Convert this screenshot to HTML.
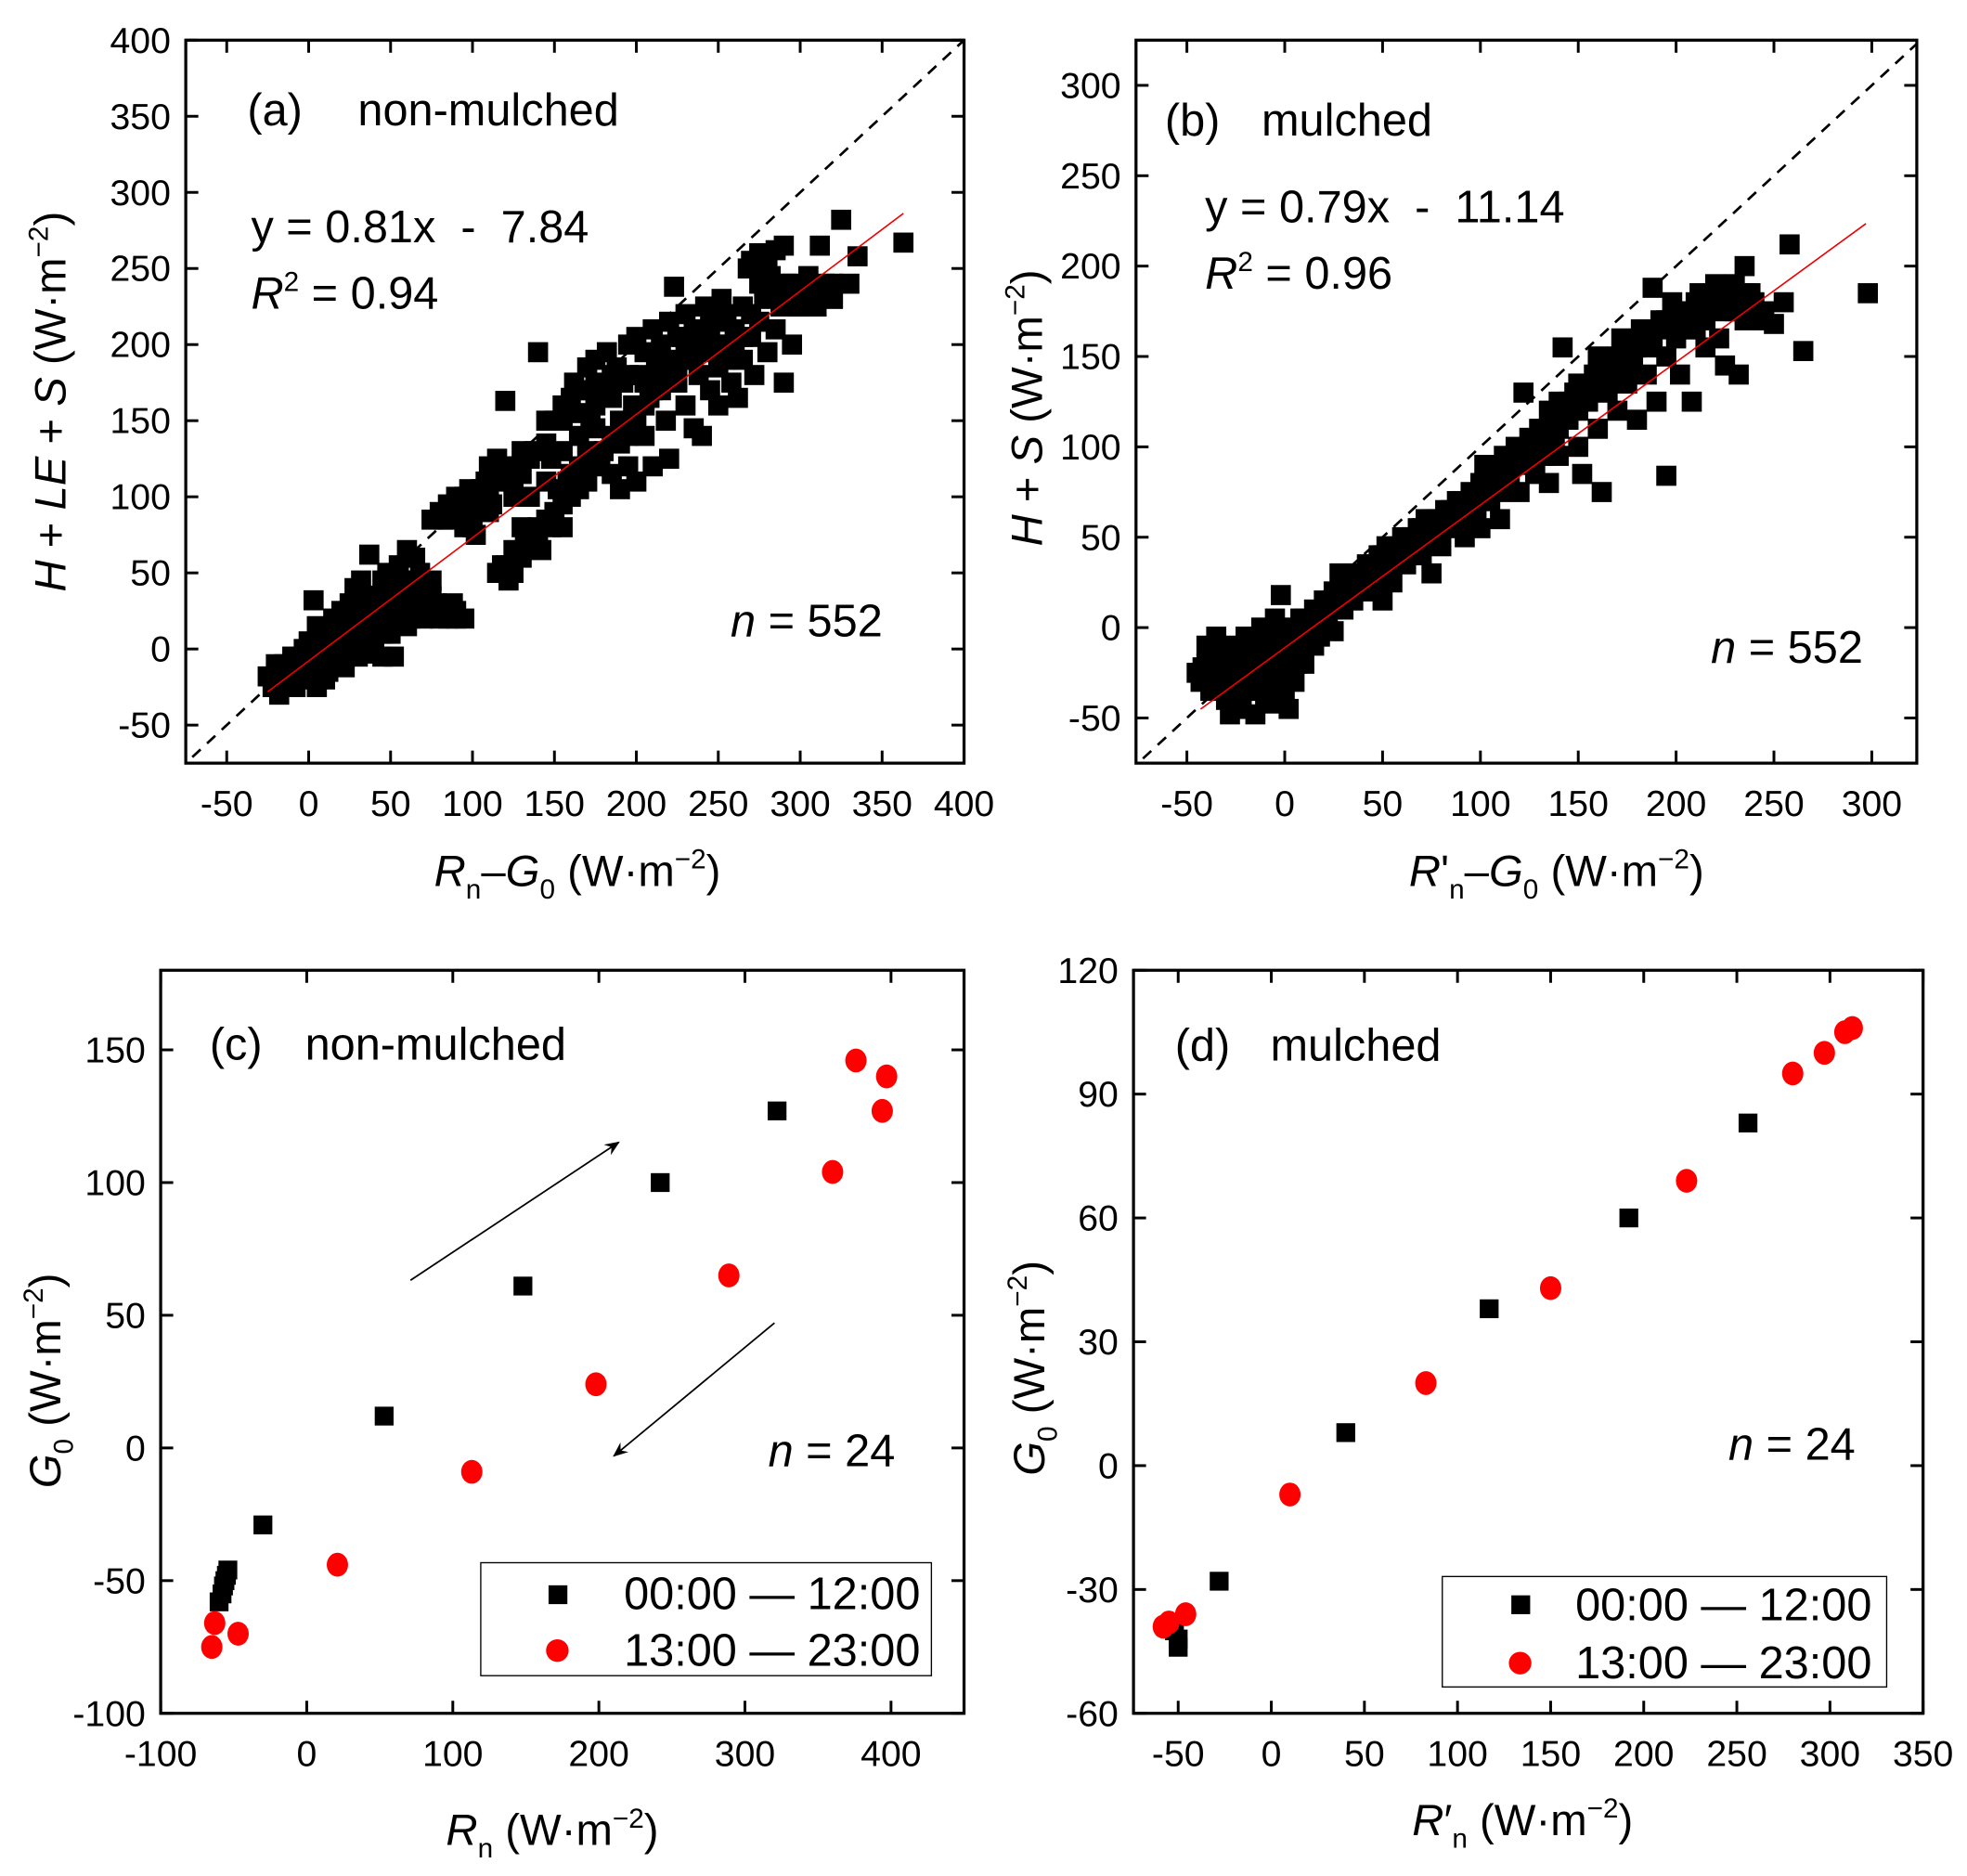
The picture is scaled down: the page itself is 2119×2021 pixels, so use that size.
<!DOCTYPE html>
<html><head><meta charset="utf-8"><style>
html,body{margin:0;padding:0;background:#fff;}
svg{display:block;}
text{font-family:"Liberation Sans",Arial,sans-serif;fill:#000;}
.tk{font-size:29px;}
.ann{font-size:36px;}
.ttl{font-size:35px;}
</style></head><body>
<svg id="fig" width="2119" height="2021" viewBox="0 0 1567 1494.6" preserveAspectRatio="none" xmlns="http://www.w3.org/2000/svg">
<defs>
<clipPath id="ca"><rect x="148" y="32" width="620" height="576"/></clipPath>
<clipPath id="cb"><rect x="905" y="32" width="622" height="576"/></clipPath>
<marker id="ah" markerWidth="12" markerHeight="10" refX="11" refY="5" orient="auto" markerUnits="userSpaceOnUse"><path d="M0,0 L12,5 L0,10 L4,5 Z" fill="#000"/></marker>
</defs>
<g id="root"></g>
<g>
<text class="ann" x="197" y="100">(a)</text><text class="ann" x="285" y="100">non-mulched</text>
<text class="ann" x="200" y="193">y = 0.81x &#160;- &#160;7.84</text>
<text class="ann" x="200" y="246"><tspan font-style="italic">R</tspan><tspan font-size="22" dy="-14">2</tspan><tspan dy="14"> = 0.94</tspan></text>
<text class="ann" x="582" y="507"><tspan font-style="italic">n</tspan> = 552</text>
</g>
<g>
<text class="ann" x="928" y="108">(b)</text><text class="ann" x="1005" y="108">mulched</text>
<text class="ann" x="960" y="177">y = 0.79x &#160;- &#160;11.14</text>
<text class="ann" x="960" y="230"><tspan font-style="italic">R</tspan><tspan font-size="22" dy="-14">2</tspan><tspan dy="14"> = 0.96</tspan></text>
<text class="ann" x="1363" y="528"><tspan font-style="italic">n</tspan> = 552</text>
</g>
<g>
<text class="ann" x="167" y="844">(c)</text><text class="ann" x="243" y="844">non-mulched</text>
<text class="ann" x="612" y="1168"><tspan font-style="italic">n</tspan> = 24</text>
<line x1="327" y1="1020" x2="493" y2="910" stroke="#000" stroke-width="1.3" marker-end="url(#ah)"/>
<line x1="617" y1="1054" x2="489" y2="1160" stroke="#000" stroke-width="1.3" marker-end="url(#ah)"/>
</g>
<g>
<text class="ann" x="936" y="845">(d)</text><text class="ann" x="1012" y="845">mulched</text>
<text class="ann" x="1377" y="1163"><tspan font-style="italic">n</tspan> = 24</text>
</g>
<text class="ttl" transform="translate(52,320) rotate(-90)" text-anchor="middle"><tspan font-style="italic">H</tspan> + <tspan font-style="italic">LE</tspan> + <tspan font-style="italic">S</tspan> (W·m<tspan font-size="22" dy="-14">−2</tspan><tspan dy="14">)</tspan></text>
<text class="ttl" x="460" y="706" text-anchor="middle"><tspan font-style="italic">R</tspan><tspan font-size="22" dy="10">n</tspan><tspan dy="-10">–</tspan><tspan font-style="italic">G</tspan><tspan font-size="22" dy="10">0</tspan><tspan dy="-10"> (W·m</tspan><tspan font-size="22" dy="-14">−2</tspan><tspan dy="14">)</tspan></text>
<text class="ttl" transform="translate(830,325) rotate(-90)" text-anchor="middle"><tspan font-style="italic">H</tspan> + <tspan font-style="italic">S</tspan> (W·m<tspan font-size="22" dy="-14">−2</tspan><tspan dy="14">)</tspan></text>
<text class="ttl" x="1240" y="706" text-anchor="middle"><tspan font-style="italic">R</tspan>'<tspan font-size="22" dy="10">n</tspan><tspan dy="-10">–</tspan><tspan font-style="italic">G</tspan><tspan font-size="22" dy="10">0</tspan><tspan dy="-10"> (W·m</tspan><tspan font-size="22" dy="-14">−2</tspan><tspan dy="14">)</tspan></text>
<text class="ttl" transform="translate(48,1100) rotate(-90)" text-anchor="middle"><tspan font-style="italic">G</tspan><tspan font-size="22" dy="10">0</tspan><tspan dy="-10"> (W·m</tspan><tspan font-size="22" dy="-14">−2</tspan><tspan dy="14">)</tspan></text>
<text class="ttl" x="440" y="1470" text-anchor="middle"><tspan font-style="italic">R</tspan><tspan font-size="22" dy="10">n</tspan><tspan dy="-10"> (W·m</tspan><tspan font-size="22" dy="-14">−2</tspan><tspan dy="14">)</tspan></text>
<text class="ttl" transform="translate(832,1090) rotate(-90)" text-anchor="middle"><tspan font-style="italic">G</tspan><tspan font-size="22" dy="10">0</tspan><tspan dy="-10"> (W·m</tspan><tspan font-size="22" dy="-14">−2</tspan><tspan dy="14">)</tspan></text>
<text class="ttl" x="1213" y="1462" text-anchor="middle"><tspan font-style="italic">R</tspan>′<tspan font-size="22" dy="10">n</tspan><tspan dy="-10"> (W·m</tspan><tspan font-size="22" dy="-14">−2</tspan><tspan dy="14">)</tspan></text>
<g>
<rect x="383" y="1245" width="359" height="90" fill="#fff" stroke="#000" stroke-width="1"/>
<rect x="437" y="1263" width="15" height="15" fill="#000"/>
<text class="ann" x="497" y="1282">00:00 — 12:00</text>
<circle cx="444" cy="1315" r="9" fill="#f00"/>
<text class="ann" x="497" y="1327">13:00 — 23:00</text>
</g>
<g>
<rect x="1149" y="1256" width="354" height="88" fill="#fff" stroke="#000" stroke-width="1"/>
<rect x="1204" y="1271" width="15" height="15" fill="#000"/>
<text class="ann" x="1255" y="1291">00:00 — 12:00</text>
<circle cx="1211" cy="1325" r="9" fill="#f00"/>
<text class="ann" x="1255" y="1337">13:00 — 23:00</text>
</g>
</svg>
<script>
const aPts=[[-25,-18],[-22,-25],[-20,-10],[-18,-30],[-15,-20],[-12,-15],[-10,-5],[-8,-25],[-5,-12],[-3,0],[0,-20],[0,5],[2,-8],[3,32],[5,-25],[5,15],[8,-2],[10,10],[12,-15],[15,20],[15,0],[18,-5],[20,25],[20,5],[22,-12],[25,30],[25,12],[28,40],[30,-5],[30,20],[32,45],[35,25],[35,5],[37,62],[40,35],[40,-3],[42,15],[45,45],[45,30],[48,50],[50,10],[50,35],[52,-5],[55,55],[55,18],[58,40],[60,65],[60,15],[62,20],[65,60],[65,30],[68,50],[70,20],[72,35],[75,45],[75,22],[78,30],[80,90],[80,25],[82,85],[85,20],[88,30],[90,100],[90,20],[92,90],[95,95],[98,105],[100,80],[100,100],[102,75],[105,105],[108,110],[110,120],[112,95],[115,125],[115,50],[118,118],[120,55],[120,163],[122,45],[125,110],[125,65],[128,120],[130,60],[130,115],[132,70],[135,125],[135,75],[138,130],[140,80],[140,195],[142,65],[145,150],[145,85],[148,125],[150,90],[150,150],[152,105],[155,160],[155,80],[158,110],[160,165],[160,115],[162,175],[165,120],[165,155],[168,170],[170,130],[170,185],[172,150],[175,145],[175,190],[178,125],[180,170],[182,195],[185,140],[185,165],[188,185],[190,105],[190,150],[192,175],[195,200],[195,120],[198,160],[200,205],[200,110],[202,180],[205,140],[205,195],[208,165],[210,210],[210,120],[212,185],[215,170],[215,200],[218,150],[220,215],[220,125],[222,190],[223,238],[225,175],[228,205],[230,160],[230,220],[232,190],[235,145],[235,210],[238,180],[240,200],[240,140],[242,225],[245,170],[245,195],[248,215],[250,185],[250,160],[252,230],[255,200],[258,175],[260,210],[262,165],[265,225],[265,190],[268,250],[270,205],[272,180],[275,260],[275,215],[278,230],[280,195],[282,245],[285,210],[288,225],[290,175],[290,265],[292,240],[295,200],[298,225],[300,235],[305,230],[310,225],[312,265],[315,240],[320,230],[325,282],[330,240],[335,258],[363,267],[285,262],[270,255],[255,220],[245,205],[235,200],[225,205],[215,190],[205,175],[195,180],[185,180],[175,160],[165,140],[155,130],[145,110],[135,100],[125,100],[110,90],[100,90],[95,80],[85,85],[70,40],[60,45],[55,25],[45,20],[35,15],[25,0],[15,10],[5,0],[-5,-5],[-15,-10],[10,-20],[0,-10],[20,-10],[45,-5],
[-20,-20],[-10,-15],[0,-5],[5,-15],[10,0],[15,-10],[20,15],[25,20],[30,30],[35,35],[40,25],[45,10],[50,45],[55,35],[60,30],[65,40],[70,30],[75,35],[80,20],[85,25],[90,25],[95,20],[100,95],[105,90],[110,100],[118,55],[125,50],[130,80],[140,70],[148,80],[155,95],[160,100],[165,105],[170,110],[175,120],[180,130],[185,115],[190,135],[195,140],[200,150],[205,160],[210,170],[215,180],[220,175],[225,185],[230,200],[235,190],[240,210],[245,220],[250,200],[255,190],[260,195],[265,205],[270,220],[275,240],[280,250],[285,235],[290,230],[295,240],[300,225],[305,245],[310,235],[320,240],[175,175],[165,170],[155,150],[145,135],[130,130],[120,120],[115,110],[105,95],[95,100],[85,95],[75,85]];
const bPts=[[-45,-25],[-43,-30],[-40,-20],[-38,-35],[-35,-28],[-33,-15],[-30,-40],[-30,-22],[-28,-10],[-25,-30],[-25,-45],[-22,-18],[-20,-5],[-20,-35],[-18,-25],[-15,-48],[-15,-12],[-13,-30],[-12,0],[-10,-20],[-10,-40],[-8,-8],[-6,-28],[-5,-15],[-3,-35],[-2,18],[0,-5],[0,-25],[2,-45],[3,-15],[5,0],[5,-30],[8,-10],[10,5],[10,-20],[12,-5],[15,10],[15,-10],[18,0],[20,15],[22,5],[25,20],[25,-2],[28,30],[30,10],[32,25],[35,15],[38,30],[40,20],[42,35],[45,25],[48,40],[50,15],[50,30],[52,45],[55,25],[58,40],[60,50],[62,35],[65,45],[68,55],[70,40],[72,60],[75,50],[75,30],[78,60],[80,45],[82,65],[85,55],[88,70],[90,60],[92,50],[95,75],[98,65],[100,80],[100,55],[102,90],[105,70],[108,85],[110,60],[112,95],[115,80],[118,100],[120,75],[122,130],[122,90],[125,105],[128,85],[130,110],[132,95],[135,120],[135,80],[138,105],[140,125],[140,95],[142,155],[145,115],[148,130],[150,100],[150,135],[152,85],[155,125],[158,140],[160,110],[160,150],[162,75],[165,130],[168,145],[170,120],[172,160],[175,135],[178,150],[180,115],[182,165],[185,140],[188,188],[188,155],[190,125],[192,170],[195,84],[195,150],[198,180],[200,160],[202,140],[205,175],[208,125],[210,165],[212,185],[215,155],[218,175],[220,190],[222,160],[225,145],[225,180],[228,175],[230,190],[232,140],[235,170],[235,200],[238,185],[240,175],[245,170],[250,168],[255,180],[258,212],[265,153],[298,185],[-40,-10],[-35,-5],[-28,-48],[-20,-25],[-8,-42],[0,-38],[-18,-10],[-25,-12],[-32,-32],[-12,-25],[-5,5],[8,5],[15,2],[18,-5],
[-42,-22],[-36,-18],[-30,-30],[-27,-20],[-22,-38],[-20,-15],[-16,-32],[-14,-5],[-10,-30],[-7,-18],[-4,-5],[-2,-22],[3,-8],[6,-20],[10,-8],[13,2],[20,5],[25,10],[30,20],[35,25],[40,30],[45,35],[50,40],[55,35],[60,40],[65,50],[70,55],[75,60],[80,55],[85,65],[90,70],[95,65],[100,70],[105,80],[110,75],[115,90],[120,95],[125,95],[130,100],[135,110],[140,110],[145,125],[150,120],[155,130],[160,135],[165,140],[170,150],[175,145],[180,155],[185,160],[190,165],[195,170],[200,175],[205,165],[210,180],[215,170],[220,180],[225,185],[230,175],[235,185],[240,180],[245,175]];
const cBlackX=[-60,-58,-57,-56,-55,-54,-30,53,148,242,322];
const cBlackY=[-58,-55,-52,-50,-48,-46,-29,12,61,100,127];
const cRedX=[-65,-63,-47,21,113,198,289,360,376,397,394];
const cRedY=[-75,-66,-70,-44,-9,24,65,104,146,140,127];
const dBlackX=[-50,-50,-52,-28,40,117,192,256];
const dBlackY=[-44,-42,-40,-28,8,38,60,83];
const dRedX=[-58,-55,-46,10,83,150,223,280,297,308,312];
const dRedY=[-39,-38,-36,-7,20,43,69,95,100,105,106];
const aTicksX=[-50,0,50,100,150,200,250,300,350,400], aTicksY=[-50,0,50,100,150,200,250,300,350,400];
const bTicksX=[-50,0,50,100,150,200,250,300], bTicksY=[-50,0,50,100,150,200,250,300];
const cTicksX=[-100,0,100,200,300,400], cTicksY=[-100,-50,0,50,100,150];
const dTicksX=[-50,0,50,100,150,200,250,300,350], dTicksY=[-60,-30,0,30,60,90,120];
const aFit=[0.81,-7.84,-25,363], bFit=[0.79,-11.14,-43,297];

const NS='http://www.w3.org/2000/svg';
const root=document.getElementById('root');
function mk(tag,attrs,parent){const e=document.createElementNS(NS,tag);for(const k in attrs)e.setAttribute(k,attrs[k]);(parent||root).appendChild(e);return e;}
function panel(id,box,xr,yr,tx,ty,clip){
  const [L,T,R,B]=box;
  const sx=v=>L+(v-xr[0])/(xr[1]-xr[0])*(R-L);
  const sy=v=>B-(v-yr[0])/(yr[1]-yr[0])*(B-T);
  const g=mk('g',{});
  
  
  const ax=mk('g',{},g);
  
  
  tx.forEach(v=>{const x=sx(v);
    mk('line',{x1:x,x2:x,y1:B,y2:B-10,stroke:'#000','stroke-width':2.2},ax);
    mk('line',{x1:x,x2:x,y1:T,y2:T+10,stroke:'#000','stroke-width':2.2},ax);
    const t=mk('text',{x:x,y:B+42,'text-anchor':'middle',class:'tk'},ax);t.textContent=v;
    
    });
  ty.forEach(v=>{const y=sy(v);
    mk('line',{x1:L,x2:L+10,y1:y,y2:y,stroke:'#000','stroke-width':2.2},ax);
    mk('line',{x1:R,x2:R-10,y1:y,y2:y,stroke:'#000','stroke-width':2.2},ax);
    const t=mk('text',{x:L-12,y:y+10,'text-anchor':'end',class:'tk'},ax);t.textContent=v;
    
    });
  mk('rect',{x:L,y:T,width:R-L,height:B-T,fill:'none',stroke:'#000','stroke-width':2.4},ax);
  const marks=mk('g',clip?{'clip-path':'url(#'+clip+')'}:{},g);
  
  
  return {sx,sy,g,marks,box};
}
function squares(p,xs,ys,s,nm){xs.forEach((x,i)=>{const r=mk('rect',{x:p.sx(x)-s/2,y:p.sy(ys[i])-s/2,width:s,height:s,fill:'#000'},p.marks);
  
  });}
function circles(p,xs,ys,nm){xs.forEach((x,i)=>{const c=mk('ellipse',{cx:p.sx(x),cy:p.sy(ys[i]),rx:8.5,ry:9.5,fill:'#f00'},p.marks);
  
  });}
function oneToOne(p,lo,hi){const l=mk('line',{x1:p.sx(lo),y1:p.sy(lo),x2:p.sx(hi),y2:p.sy(hi),stroke:'#000','stroke-width':2,'stroke-dasharray':'9,7'},p.marks);
  
  }
function fit(p,f){const l=mk('line',{x1:p.sx(f[2]),y1:p.sy(f[0]*f[2]+f[1]),x2:p.sx(f[3]),y2:p.sy(f[0]*f[3]+f[1]),stroke:'#e00','stroke-width':1.2},p.marks);
  
  }

const pa=panel('panel-a',[148,32,768,608],[-75,400],[-75,400],aTicksX,aTicksY,'ca');
oneToOne(pa,-80,410);
squares(pa,aPts.map(p=>p[0]),aPts.map(p=>p[1]),16,'data-point');
fit(pa,aFit);
const pb=panel('panel-b',[905,32,1527,608],[-76,323],[-75,325],bTicksX,bTicksY,'cb');
oneToOne(pb,-80,330);
squares(pb,bPts.map(p=>p[0]),bPts.map(p=>p[1]),16,'data-point');
fit(pb,bFit);
const pc=panel('panel-c',[128,773,768,1365],[-100,450],[-100,180],cTicksX,cTicksY,null);
squares(pc,cBlackX,cBlackY,15,'point-morning');
circles(pc,cRedX,cRedY,'point-afternoon');
const pd=panel('panel-d',[903,773,1532,1365],[-74,350],[-60,120],dTicksX,dTicksY,null);
squares(pd,dBlackX,dBlackY,15,'point-morning');
circles(pd,dRedX,dRedY,'point-afternoon');
</script>
</body></html>
